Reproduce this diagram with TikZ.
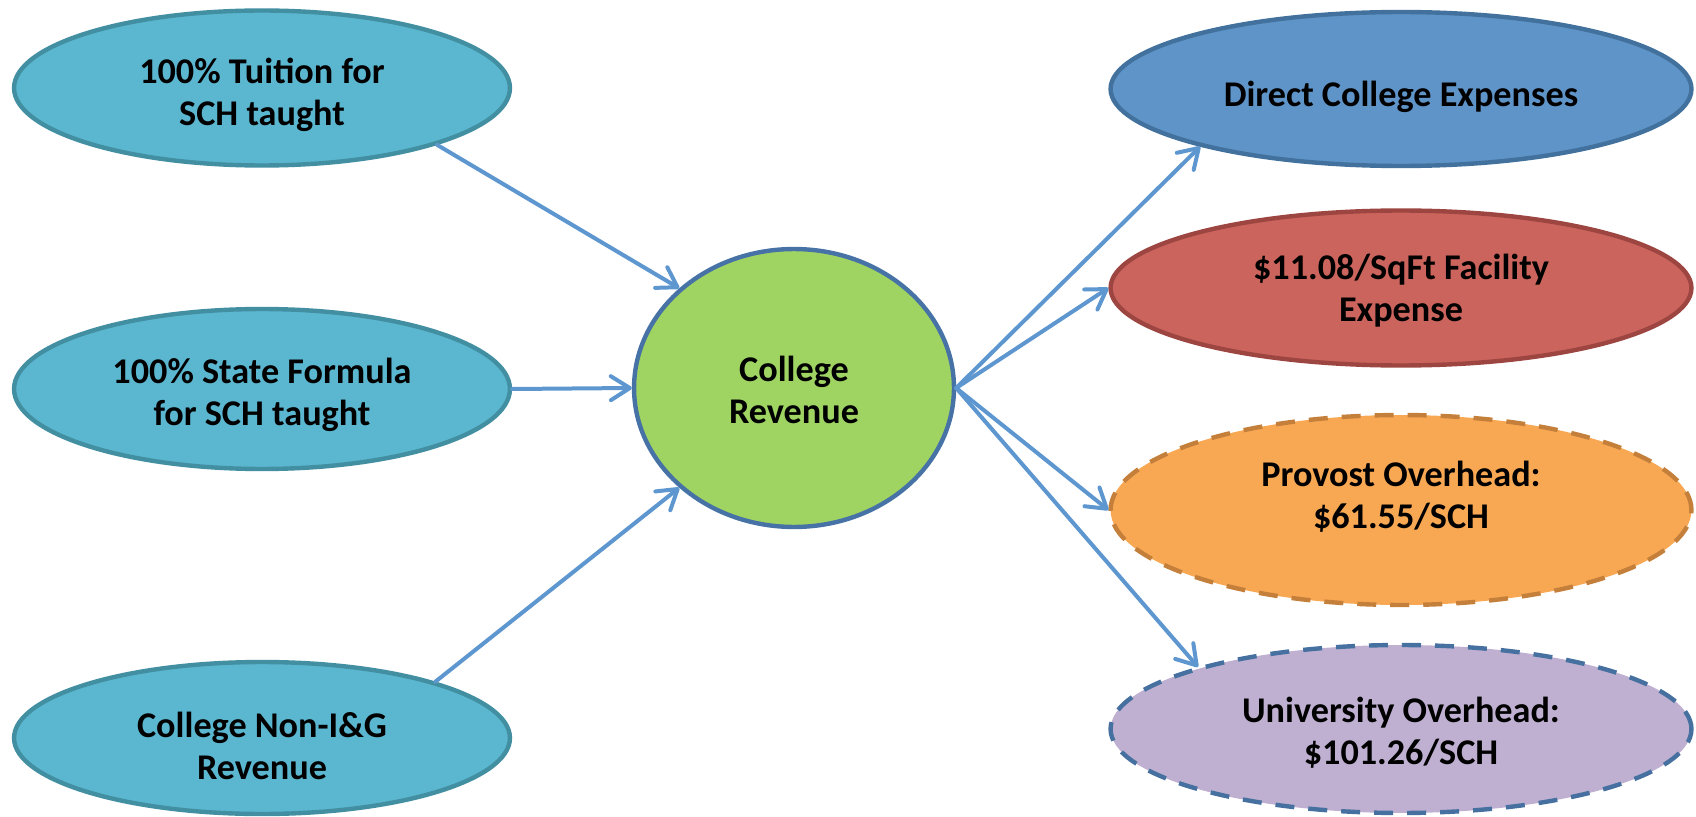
\documentclass[tikz,border=0pt]{standalone}
\usepackage{fontspec}
\setmainfont{Carlito}
\usetikzlibrary{arrows.meta,shapes.geometric}

\definecolor{srcfill}{HTML}{5BB7D0}
\definecolor{srcline}{HTML}{428FA2}
\definecolor{revfill}{HTML}{A0D462}
\definecolor{revline}{HTML}{4672A6}
\definecolor{dirfill}{HTML}{5F94C8}
\definecolor{dirline}{HTML}{41719C}
\definecolor{facfill}{HTML}{CB645C}
\definecolor{facline}{HTML}{9D4541}
\definecolor{provfill}{HTML}{F8A753}
\definecolor{provline}{HTML}{C47F3A}
\definecolor{univfill}{HTML}{BFB0D1}
\definecolor{univline}{HTML}{45709F}
\definecolor{flowblue}{HTML}{5E97D0}

\begin{document}
\begin{tikzpicture}[x=0.02cm,y=-0.02cm,
    every node/.style={font=\fontsize{20.6}{23.9}\selectfont\bfseries, align=center},
    bubble/.style={ellipse, line width=0.088cm, inner sep=0pt},
    source/.style={bubble, draw=srcline, fill=srcfill, minimum width=9.92cm, minimum height=3.1cm},
    expense/.style={bubble, minimum width=11.62cm},
    dashedline/.style={dash pattern=on 0.38cm off 0.28cm},
    flow/.style={draw=flowblue, line width=0.08cm, line cap=round,
        -{Straight Barb[length=0.38cm,width=0.48cm,round]}}]
\useasboundingbox (0,0) rectangle (1696,817);

\node[source] (tuition) at (262,88) {};
\node (tuitiontext) at (262,95) {100\% Tuition for\\SCH taught};
\node[source, minimum height=3.2cm] (state) at (262,389) {};
\node (statetext) at (262,395) {100\% State Formula\\for SCH taught};
\node[source, minimum height=3.04cm] (nonig) at (262,738) {};
\node (nonigtext) at (262,746) {College Non-I\&G\\Revenue};

\node[bubble, draw=revline, fill=revfill, minimum width=6.4cm, minimum height=5.56cm] (rev) at (794,388) {};
\node (revtext) at (794,390) {College\\Revenue};

\node[expense, draw=dirline, fill=dirfill, minimum height=3.08cm] (direct) at (1401,89) {};
\node (directtext) at (1401,97) {Direct College Expenses};
\node[expense, draw=facline, fill=facfill, minimum height=3.1cm] (facility) at (1401,288) {};
\node (facilitytext) at (1401,291) {\$11.08/SqFt Facility\\Expense};
\node[expense, draw=provline, fill=provfill, minimum height=3.8cm, dashedline] (provost) at (1401,510) {};
\node (provosttext) at (1401,497) {Provost Overhead:\\\$61.55/SCH};
\node[expense, draw=univline, fill=univfill, minimum height=3.36cm, dashedline] (univ) at (1401,729) {};
\node (univtext) at (1401,733) {University Overhead:\\\$101.26/SCH};

\draw[flow] (tuition.342) -- (rev.139);
\draw[flow] (state.east) -- (rev.west);
\draw[flow] (nonig.18) -- (rev.221);

\draw[flow] (rev.east) -- (direct.196);
\draw[flow] (rev.east) -- (facility.west);
\draw[flow] (rev.east) -- (provost.west);
\draw[flow] (rev.east) -- (univ.163);
\end{tikzpicture}
\end{document}
